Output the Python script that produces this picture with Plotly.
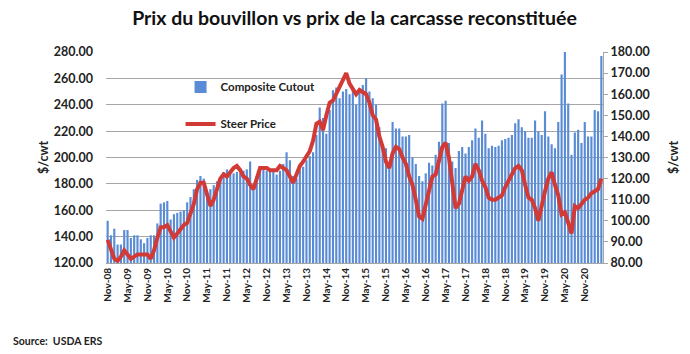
import plotly.graph_objects as go

months = []
mnames = ["Jan","Feb","Mar","Apr","May","Jun","Jul","Aug","Sep","Oct","Nov","Dec"]
y, m = 2008, 10
for _ in range(150):
    months.append(f"{mnames[m]}-{str(y)[2:]}")
    m += 1
    if m == 12:
        m = 0
        y += 1

cutout = [152,141,146,134,134,145,145,139,141,141,138,135,139,141,141,150,165,166,167,153,
          157,158,159,160,166,170,176,183,186,184,173,176,179,182,185,189,191,188,188,189,
          188,190,191,197,180,186,190,191,190,189,189,187,190,195,204,198,186,184,191,193,
          198,201,204,217,238,230,218,236,251,253,245,250,252,248,253,240,250,255,260,250,
          245,240,223,210,207,195,227,222,222,216,216,217,200,195,186,182,188,196,194,202,
          212,241,243,211,197,192,205,208,203,208,213,222,215,228,218,207,209,208,209,213,
          214,215,217,226,229,223,220,215,215,228,220,217,235,216,210,207,227,263,280,241,
          202,219,221,211,227,216,216,236,235,277]

steer = [91,86,82,81,83,86,84,82,83,84,84,84,84,82,86,92,97,97,98,95,
         92,94,96,98,99,103,108,115,118,118,112,107,110,115,120,122,121,123,125,126,
         124,121,120,117,115,120,125,125,125,124,124,124,126,125,124,121,118,122,126,128,
         131,133,138,146,147,143,150,156,157,160,163,166,170,165,162,160,162,161,160,156,
         150,148,140,135,128,125,132,135,134,130,127,121,117,110,102,101,108,115,121,122,
         128,135,137,130,118,106,108,114,121,119,121,127,124,119,116,111,110,110,111,112,
         116,119,123,125,126,124,117,111,110,106,100,108,114,120,123,117,112,103,104,99,
         94,107,106,108,110,111,113,114,115,120]

tick_labels = months[::6]

fig = go.Figure()
fig.add_trace(go.Bar(x=months, y=cutout, name="Composite Cutout",
                     marker=dict(color="#5a8cd6", line=dict(width=0)), legendgroup="a"))
fig.add_trace(go.Scatter(x=months, y=steer, name="Steer Price", mode="lines", yaxis="y2",
                         line=dict(color="#d23a36", width=4), legendgroup="b"))

tf = dict(family="Lato", size=12.5, color="#222222", weight="bold")
fig.update_layout(
    width=690, height=354,
    margin=dict(l=106, r=81, t=52, b=91),
    paper_bgcolor="white", plot_bgcolor="white",
    bargap=0.35,
    title=dict(text="<b>Prix du bouvillon vs prix de la carcasse reconstituée</b>",
               x=0.5, xref="paper", xanchor="center", y=0.95, yanchor="middle",
               font=dict(family="Lato", size=19.5, color="#111111")),
    xaxis=dict(type="category", tickmode="array", tickvals=tick_labels, ticktext=tick_labels,
               tickangle=-90, tickfont=dict(family="Lato", size=10, color="#222222", weight="bold"),
               showline=True, linecolor="#a6a6a6", showgrid=False, ticks=""),
    yaxis=dict(range=[120, 280], dtick=20, tick0=120, tickformat=".2f", showgrid=True,
               gridcolor="#a6a6a6", gridwidth=1, zeroline=False, showline=False, tickfont=tf,
               ticklabelstandoff=12,
               title=dict(text="<b>$/cwt</b>", font=dict(family="Lato", size=12.5, color="#222222"), standoff=2)),
    yaxis2=dict(range=[80, 180], dtick=10, tick0=80, tickformat=".2f", overlaying="y", side="right",
                showgrid=False, zeroline=False, showline=True, linecolor="#a6a6a6", ticks="outside",
                ticklen=4, tickcolor="#a6a6a6", tickfont=tf,
                title=dict(text="<b>$/cwt</b>", font=dict(family="Lato", size=12.5, color="#222222"), standoff=20)),
    legend=dict(x=0.15, y=0.903, xanchor="left", yanchor="top", bgcolor="rgba(0,0,0,0)",
                font=dict(family="Lato", size=11.5, color="#222222", weight="bold"), tracegroupgap=18),
    showlegend=True,
)
fig.add_annotation(text="<b>Source:  USDA ERS</b>", xref="paper", yref="paper", x=-0.191, y=-0.372,
                   xanchor="left", yanchor="middle", showarrow=False,
                   font=dict(family="Lato", size=10.5, color="#222222"))

fig.write_html("out.html")
